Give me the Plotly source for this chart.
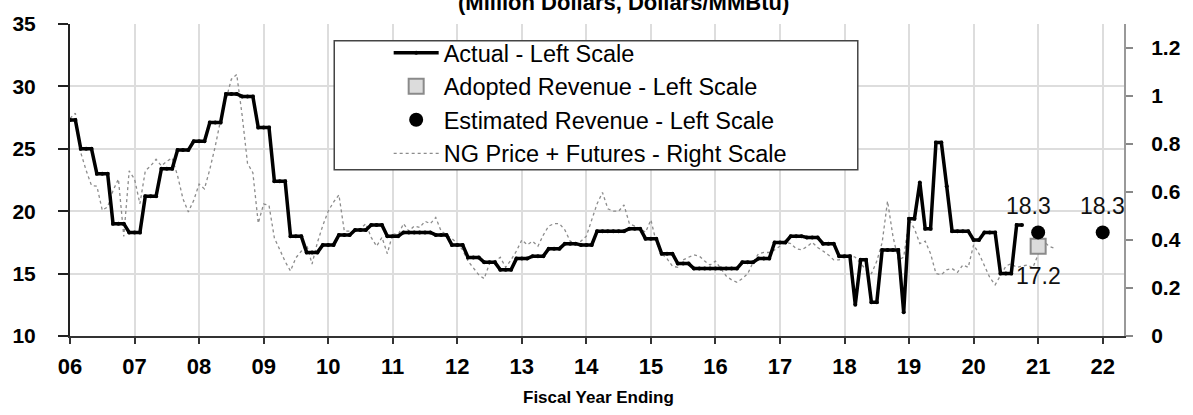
import plotly.graph_objects as go

# ---------------- data ----------------
fiscal_year_ticks = list(range(6, 23))
tick_labels = [f"{v:02d}" for v in fiscal_year_ticks]

# Actual revenue (million $), monthly, starting at FY06
actual_monthly = [
    27.3, 27.3, 25.0, 25.0, 25.0, 23.0, 23.0, 23.0, 19.0, 19.0, 19.0, 18.3,
    18.3, 18.3, 21.2, 21.2, 21.2, 23.4, 23.4, 23.4, 24.9, 24.9, 24.9, 25.6,
    25.6, 25.6, 27.1, 27.1, 27.1, 29.4, 29.4, 29.4, 29.2, 29.2, 29.2, 26.7,
    26.7, 26.7, 22.4, 22.4, 22.4, 18.0, 18.0, 18.0, 16.7, 16.7, 16.7, 17.3,
    17.3, 17.3, 18.1, 18.1, 18.1, 18.5, 18.5, 18.5, 18.9, 18.9, 18.9, 18.0,
    18.0, 18.0, 18.3, 18.3, 18.3, 18.3, 18.3, 18.3, 18.1, 18.1, 18.1, 17.3,
    17.3, 17.3, 16.3, 16.3, 16.3, 15.9, 15.9, 15.9, 15.3, 15.3, 15.3, 16.2,
    16.2, 16.2, 16.4, 16.4, 16.4, 17.0, 17.0, 17.0, 17.4, 17.4, 17.4, 17.3,
    17.3, 17.3, 18.4, 18.4, 18.4, 18.4, 18.4, 18.4, 18.6, 18.6, 18.6, 17.8,
    17.8, 17.8, 16.6, 16.6, 16.6, 15.8, 15.8, 15.8, 15.4, 15.4, 15.4, 15.4,
    15.4, 15.4, 15.4, 15.4, 15.4, 15.9, 15.9, 15.9, 16.2, 16.2, 16.2, 17.5,
    17.5, 17.5, 18.0, 18.0, 18.0, 17.9, 17.9, 17.9, 17.4, 17.4, 17.4, 16.4,
    16.4, 16.4, 12.5, 16.1, 16.1, 12.7, 12.7, 16.9, 16.9, 16.9, 16.9, 11.9,
    19.4, 19.4, 22.3, 18.6, 18.6, 25.5, 25.5, 22.0, 18.4, 18.4, 18.4, 18.4,
    17.7, 17.7, 18.3, 18.3, 18.3, 15.0, 15.0, 15.0, 18.9, 18.9,
]

# NG price + futures ($), monthly, starting at FY06
ng_price_monthly = [
    0.907, 0.928, 0.764, 0.690, 0.627, 0.624, 0.524, 0.538, 0.606, 0.654, 0.415, 0.688,
    0.654, 0.551, 0.688, 0.709, 0.736, 0.709, 0.728, 0.742, 0.668, 0.572, 0.517, 0.565,
    0.633, 0.613, 0.695, 0.790, 0.900, 0.990, 1.070, 1.090, 0.920, 0.720, 0.680, 0.470,
    0.550, 0.544, 0.408, 0.360, 0.310, 0.271, 0.326, 0.353, 0.380, 0.300, 0.390, 0.460,
    0.520, 0.558, 0.588, 0.437, 0.437, 0.442, 0.447, 0.468, 0.411, 0.374, 0.411, 0.343,
    0.426, 0.421, 0.468, 0.437, 0.458, 0.452, 0.478, 0.468, 0.494, 0.437, 0.421, 0.406,
    0.385, 0.359, 0.312, 0.281, 0.255, 0.239, 0.302, 0.312, 0.328, 0.286, 0.317, 0.354,
    0.400, 0.380, 0.395, 0.374, 0.421, 0.458, 0.468, 0.468, 0.442, 0.395, 0.385, 0.395,
    0.416, 0.484, 0.551, 0.598, 0.530, 0.520, 0.520, 0.546, 0.468, 0.458, 0.447, 0.432,
    0.484, 0.390, 0.343, 0.322, 0.291, 0.286, 0.317, 0.328, 0.338, 0.333, 0.312, 0.296,
    0.312, 0.281, 0.250, 0.234, 0.224, 0.239, 0.260, 0.307, 0.343, 0.348, 0.348, 0.359,
    0.374, 0.390, 0.385, 0.364, 0.359, 0.372, 0.390, 0.369, 0.354, 0.338, 0.317, 0.317,
    0.328, 0.338, 0.328, 0.302, 0.276, 0.260, 0.312, 0.390, 0.562, 0.416, 0.317, 0.328,
    0.484, 0.447, 0.385, 0.395, 0.343, 0.260, 0.255, 0.276, 0.281, 0.265, 0.296, 0.286,
    0.380, 0.343, 0.296, 0.244, 0.213, 0.250, 0.291, 0.302, 0.286, 0.291, 0.296, 0.284,
    0.343, 0.396, 0.374, 0.366,
]

adopted_fy = [21]
adopted_rev = [17.2]
estimated_fy = [21, 22]
estimated_rev = [18.3, 18.3]

right_ticks = [0, 0.2, 0.4, 0.6, 0.8, 1.0, 1.2]
right_labels = ["0", "0.2", "0.4", "0.6", "0.8", "1", "1.2"]

start_fy = 6
actual_x = [start_fy + i / 12 for i in range(len(actual_monthly))]
ng_x = [start_fy + i / 12 for i in range(len(ng_price_monthly))]

FONT = "Liberation Sans, Arial, sans-serif"
GRID = "#dddddd"

fig = go.Figure()

fig.add_trace(go.Scatter(
    x=adopted_fy, y=adopted_rev, yaxis="y2", mode="markers",
    marker=dict(symbol="square", size=15, color="#dcdcdc",
                line=dict(color="#8a8a8a", width=2)),
    name="Adopted Revenue - Left Scale", legendrank=2,
))
fig.add_trace(go.Scatter(
    x=ng_x, y=ng_price_monthly, yaxis="y", mode="lines",
    line=dict(color="#8c8c8c", width=1.3, dash="dot"),
    name="NG Price + Futures - Right Scale", legendrank=4,
))
fig.add_trace(go.Scatter(
    x=actual_x, y=actual_monthly, yaxis="y2", mode="lines+markers",
    line=dict(color="black", width=3.5),
    marker=dict(size=4, color="black"),
    name="Actual - Left Scale", legendrank=1,
))
fig.add_trace(go.Scatter(
    x=estimated_fy, y=estimated_rev, yaxis="y2", mode="markers",
    marker=dict(symbol="circle", size=14, color="black"),
    name="Estimated Revenue - Left Scale", legendrank=3,
))

bold_tick = dict(family=FONT, size=21, color="black", weight="bold")

fig.update_layout(
    width=1193, height=415,
    margin=dict(l=66, r=62, t=19, b=79),
    paper_bgcolor="white", plot_bgcolor="white",
    font=dict(family=FONT, color="black"),
    xaxis=dict(
        range=[6, 22.33], tickvals=fiscal_year_ticks, ticktext=tick_labels,
        showgrid=True, gridcolor=GRID, gridwidth=1.5,
        ticks="outside", ticklen=6, tickcolor="#333", tickwidth=1.5,
        showline=True, linecolor="#333", linewidth=1.5, zeroline=False,
        tickfont=dict(family=FONT, size=22, color="black", weight="bold"),
        ticklabelstandoff=4,
    ),
    yaxis=dict(
        side="right", range=[0, 1.3], tickvals=right_ticks, ticktext=right_labels,
        showgrid=False, zeroline=False,
        ticks="outside", ticklen=7, tickcolor="#888", tickwidth=1.5,
        showline=True, linecolor="#999", linewidth=2,
        tickfont=bold_tick, ticklabelstandoff=14,
    ),
    yaxis2=dict(
        side="left", overlaying="y", range=[10, 35], dtick=5, tick0=10,
        showgrid=True, gridcolor=GRID, gridwidth=1.5, zeroline=False,
        ticks="outside", ticklen=10, tickcolor="#222", tickwidth=1.5,
        showline=True, linecolor="#222", linewidth=2,
        tickfont=bold_tick, ticklabelstandoff=18,
    ),
    legend=dict(
        x=(388 - 66) / 1065, y=1 - (26 - 19) / 317, xanchor="left", yanchor="top",
        bgcolor="rgba(0,0,0,0)", borderwidth=0,
        font=dict(family=FONT, size=23.5, color="black"),
        itemwidth=45,
    ),
    showlegend=True,
)

# legend frame
fig.add_shape(
    type="rect", xref="paper", yref="paper", layer="above",
    x0=(333 - 66) / 1065, x1=(862 - 66) / 1065,
    y0=1 - (167 - 19) / 317, y1=1 - (36 - 19) / 317,
    line=dict(color="#444", width=1.5), fillcolor="white",
)

# value labels
for i, (fx, v) in enumerate(zip(estimated_fy, estimated_rev)):
    fig.add_annotation(
        x=fx, y=v, xref="x", yref="y2", text=f"{v:.1f}", showarrow=False,
        xshift=-10 if i == 0 else 0, yshift=26,
        font=dict(family=FONT, size=23, color="#111"),
    )
for fx, v in zip(adopted_fy, adopted_rev):
    fig.add_annotation(
        x=fx, y=v, xref="x", yref="y2", text=f"{v:.1f}", showarrow=False,
        yshift=-30, font=dict(family=FONT, size=23, color="#111"),
    )

# titles
fig.add_annotation(
    x=(625 - 66) / 1065, y=1 + 22 / 317, xref="paper", yref="paper",
    text="(Million Dollars, Dollars/MMBtu)", showarrow=False,
    xanchor="center", yanchor="middle",
    font=dict(family=FONT, size=22, color="black", weight="bold"),
)
fig.add_annotation(
    x=(600 - 66) / 1065, y=1 - (398 - 19) / 317, xref="paper", yref="paper",
    text="Fiscal Year Ending", showarrow=False,
    xanchor="center", yanchor="middle",
    font=dict(family=FONT, size=17, color="black", weight="bold"),
)

fig.write_html(
    "out.html",
    config={"displayModeBar": False},
    post_script="document.body.style.margin='0px';",
)
